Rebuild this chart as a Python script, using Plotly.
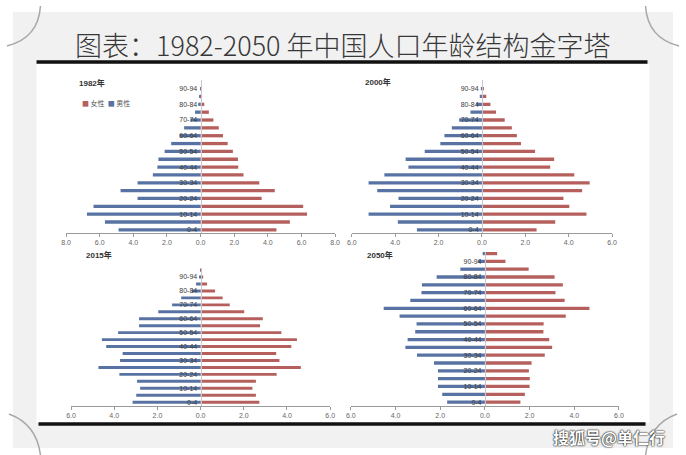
import plotly.graph_objects as go

W, H = 686, 455

ages19 = ["0-4", "5-9", "10-14", "15-19", "20-24", "25-29", "30-34", "35-39", "40-44",
          "45-49", "50-54", "55-59", "60-64", "65-69", "70-74", "75-79", "80-84", "85-89", "90-94"]
ages20 = ages19 + ["95+"]
labelled = ["0-4", "10-14", "20-24", "30-34", "40-44", "50-54", "60-64", "70-74", "80-84", "90-94"]

male_1982 = [4.88, 5.69, 6.76, 6.37, 3.75, 4.76, 3.75, 2.84, 2.57, 2.51, 2.14, 1.75, 1.25, 0.98, 0.61, 0.33, 0.14, 0.04, 0.01]
female_1982 = [4.51, 5.31, 6.33, 6.10, 3.63, 4.41, 3.49, 2.55, 2.24, 2.22, 1.92, 1.61, 1.33, 1.08, 0.76, 0.49, 0.22, 0.07, 0.02]

male_2000 = [3.00, 3.88, 5.23, 4.24, 3.85, 4.83, 5.23, 4.50, 3.39, 3.52, 2.64, 1.92, 1.73, 1.39, 1.05, 0.53, 0.26, 0.10, 0.02]
female_2000 = [2.52, 3.38, 4.82, 4.03, 3.76, 4.62, 4.97, 4.26, 3.15, 3.33, 2.45, 1.80, 1.61, 1.38, 1.05, 0.65, 0.39, 0.20, 0.05]

male_2015 = [3.15, 2.98, 2.80, 2.94, 3.76, 4.73, 3.73, 3.61, 4.37, 4.57, 3.82, 2.85, 2.85, 1.96, 1.32, 0.90, 0.41, 0.21, 0.03, 0.01]
female_2015 = [2.72, 2.56, 2.40, 2.56, 3.52, 4.64, 3.65, 3.50, 4.20, 4.46, 3.74, 2.75, 2.88, 2.02, 1.35, 1.02, 0.67, 0.30, 0.12, 0.02]

male_2050 = [1.69, 1.91, 2.10, 2.10, 2.10, 2.28, 3.04, 3.56, 3.46, 3.12, 3.06, 3.82, 4.53, 3.34, 2.84, 2.82, 2.16, 1.10, 0.30, 0.10]
female_2050 = [1.59, 1.79, 2.00, 2.01, 1.97, 2.09, 2.68, 3.01, 2.88, 2.62, 2.63, 3.62, 4.68, 3.57, 3.16, 3.49, 3.12, 1.96, 0.92, 0.55]

years = ["1982年", "2000年", "2015年", "2050年"]
x_ticks_8 = [-8, -6, -4, -2, 0, 2, 4, 6, 8]
x_ticks_6 = [-6, -4, -2, 0, 2, 4, 6]

MALE = "#5873a3"
FEMALE = "#b5605c"


def fx(px):
    return px / W


def fy(py):
    return 1 - py / H


panels = [
    dict(ages=ages19, male=male_1982, female=female_1982, x0=62, x1=335, yt=80, yb=233, xmax=8, yr=[-0.4, 19.1], ticks=x_ticks_8),
    dict(ages=ages19, male=male_2000, female=female_2000, x0=352, x1=616, yt=80, yb=233, xmax=6, yr=[-0.4, 19.1], ticks=x_ticks_6),
    dict(ages=ages20, male=male_2015, female=female_2015, x0=67, x1=330, yt=268, yb=406, xmax=6, yr=[-0.55, 19.3], ticks=x_ticks_6),
    dict(ages=ages20, male=male_2050, female=female_2050, x0=351, x1=623, yt=252, yb=406, xmax=6, yr=[-0.5, 19.2], ticks=x_ticks_6),
]

fig = go.Figure()
layout = {}
for i, p in enumerate(panels):
    sfx = "" if i == 0 else str(i + 1)
    xa, ya = "x" + sfx, "y" + sfx
    fig.add_trace(go.Bar(y=p["ages"], x=[-v for v in p["male"]], orientation="h", name="男性",
                         marker=dict(color=MALE, line=dict(width=0)), width=0.42,
                         xaxis=xa, yaxis=ya, showlegend=False))
    fig.add_trace(go.Bar(y=p["ages"], x=p["female"], orientation="h", name="女性",
                         marker=dict(color=FEMALE, line=dict(width=0)), width=0.42,
                         xaxis=xa, yaxis=ya, showlegend=False))
    cx = (p["x0"] + p["x1"]) / 2
    layout["xaxis" + sfx] = dict(
        domain=[fx(p["x0"]), fx(p["x1"])], anchor=ya, range=[-p["xmax"], p["xmax"]],
        tickvals=p["ticks"], ticktext=["%.1f" % abs(t) for t in p["ticks"]],
        showline=True, linecolor="#9a9a9a", linewidth=1, ticks="outside", ticklen=3,
        tickcolor="#9a9a9a", showgrid=False, zeroline=False,
        tickfont=dict(size=7, color="#666666", family="Liberation Sans"), fixedrange=True)
    layout["yaxis" + sfx] = dict(
        domain=[fy(p["yb"]), fy(p["yt"])], anchor="free", position=fx(cx),
        type="category", categoryorder="array", categoryarray=p["ages"], range=p["yr"],
        tickvals=labelled, ticktext=labelled, ticks="", showline=True, linecolor="#c4c8d4",
        linewidth=1, showgrid=False, zeroline=False, ticklabelstandoff=2,
        tickfont=dict(size=7, color="#3a3a3a", family="Liberation Sans"), fixedrange=True)

shapes = [
    dict(type="rect", xref="paper", yref="paper", x0=fx(8), x1=fx(678), y0=fy(448), y1=fy(12),
         fillcolor="#f1f1f1", line=dict(width=0), layer="below"),
    dict(type="rect", xref="paper", yref="paper", x0=fx(32), x1=fx(654), y0=fy(423), y1=fy(64),
         fillcolor="#ffffff", line=dict(width=0), layer="below"),
    dict(type="line", xref="paper", yref="paper", x0=fx(32), x1=fx(652), y0=fy(62), y1=fy(62),
         line=dict(color="#111111", width=3.5)),
    dict(type="line", xref="paper", yref="paper", x0=fx(34), x1=fx(650), y0=fy(424), y1=fy(424),
         line=dict(color="#111111", width=3.5)),
]
curls = ["M 36 6 Q 34 38 2 46", "M 650 6 Q 652 38 684 46",
         "M 4 414 Q 32 424 36 455", "M 682 414 Q 654 424 650 455"]
for c in curls:
    pts = c.split()
    out = []
    j = 0
    while j < len(pts):
        if pts[j] in ("M", "Q", "L"):
            out.append(pts[j]); j += 1
        else:
            out.append("%f,%f" % (fx(float(pts[j])), fy(float(pts[j + 1]))))
            j += 2
    shapes.append(dict(type="path", xref="paper", yref="paper", path=" ".join(out),
                       line=dict(color="#a8a8a8", width=1.5)))

annotations = [
    dict(text="图表：1982-2050 年中国人口年龄结构金字塔", x=fx(343), y=fy(45), xref="paper", yref="paper",
         showarrow=False, xanchor="center", yanchor="middle",
         font=dict(size=27, color="#383838", family="Noto Sans CJK SC", weight=300)),
    dict(text="<span style='color:%s'>■</span> 女性  <span style='color:%s'>■</span> 男性" % (FEMALE, MALE),
         x=fx(76), y=fy(103), xref="paper", yref="paper", showarrow=False, xanchor="left", yanchor="middle",
         font=dict(size=7, color="#555555", family="Noto Sans CJK SC")),
    dict(text="搜狐号@单仁行", x=fx(672), y=fy(437), xref="paper", yref="paper", showarrow=False,
         xanchor="right", yanchor="middle",
         font=dict(size=16, color="#ffffff", family="Noto Sans CJK SC", weight="bold",
                   shadow="0 0 2px #000, 0 0 1px #000")),
]
title_pos = [(73, 83), (363, 82), (80, 255), (365, 255)]
for t, (px, py) in zip(years, title_pos):
    annotations.append(dict(text="<b>%s</b>" % t, x=fx(px), y=fy(py), xref="paper", yref="paper",
                            showarrow=False, xanchor="left", yanchor="middle",
                            font=dict(size=8, color="#333333", family="Liberation Sans, Noto Sans CJK SC")))

fig.update_layout(
    width=W, height=H, margin=dict(l=0, r=0, t=0, b=0),
    paper_bgcolor="#ffffff", plot_bgcolor="rgba(0,0,0,0)",
    barmode="overlay", showlegend=False,
    shapes=shapes, annotations=annotations, **layout)

fig.write_html("out.html")
